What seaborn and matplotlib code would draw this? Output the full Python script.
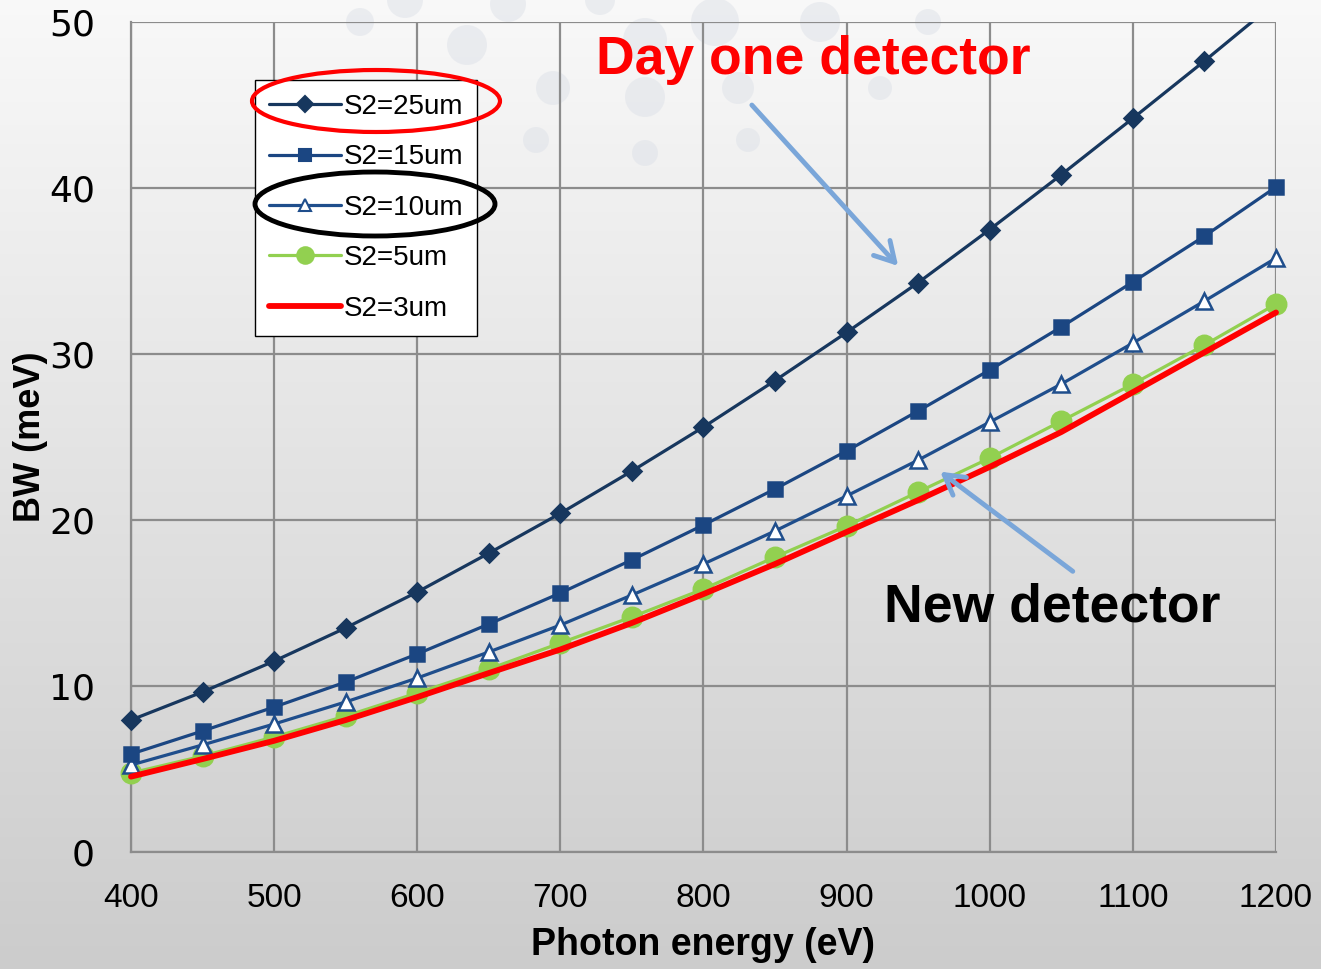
import numpy as np
import pandas as pd
import matplotlib
matplotlib.use("Agg")
import matplotlib.pyplot as plt
import seaborn as sns
from matplotlib.lines import Line2D
from matplotlib.patches import Ellipse, Circle, FancyArrowPatch, Rectangle
from matplotlib.ticker import MultipleLocator

energy = [400, 450, 500, 550, 600, 650, 700, 750, 800, 850, 900, 950, 1000, 1050, 1100, 1150, 1200]
s2_25 = [7.95, 9.64, 11.5, 13.5, 15.66, 18.0, 20.4, 22.95, 25.6, 28.4, 31.3, 34.3, 37.5, 40.8, 44.2, 47.65, 51.2]
s2_15 = [5.9, 7.29, 8.73, 10.24, 11.93, 13.73, 15.6, 17.6, 19.7, 21.87, 24.16, 26.57, 29.04, 31.63, 34.34, 37.1, 40.06]
s2_10 = [5.24, 6.45, 7.71, 9.04, 10.48, 12.05, 13.67, 15.48, 17.35, 19.34, 21.45, 23.61, 25.9, 28.19, 30.66, 33.19, 35.78]
s2_5 = [4.76, 5.78, 6.93, 8.19, 9.58, 11.02, 12.59, 14.16, 15.84, 17.77, 19.64, 21.69, 23.73, 25.96, 28.19, 30.54, 33.01]
s2_3 = [4.54, 5.6, 6.7, 7.95, 9.33, 10.78, 12.2, 13.8, 15.54, 17.35, 19.28, 21.2, 23.2, 25.3, 27.7, 30.1, 32.5]
labels = ["S2=25um", "S2=15um", "S2=10um", "S2=5um", "S2=3um"]
xticks = [400, 500, 600, 700, 800, 900, 1000, 1100, 1200]
yticks = [0, 10, 20, 30, 40, 50]

sns.set_theme(style="white")
plt.rcParams['font.family'] = ['Liberation Sans', 'DejaVu Sans']
plt.rcParams['text.color'] = 'black'
plt.rcParams['axes.labelcolor'] = 'black'
plt.rcParams['xtick.color'] = 'black'
plt.rcParams['ytick.color'] = 'black'

W, H = 1321, 969
fig = plt.figure(figsize=(W / 100, H / 100), dpi=100)

# background gradient
bg = fig.add_axes([0, 0, 1, 1], zorder=-10)
grad = np.linspace(0, 1, 256).reshape(-1, 1)
top = np.array([0.975, 0.975, 0.975])
bot = np.array([0.80, 0.80, 0.80])
img = top[None, None, :] * (1 - grad[:, :, None]) + bot[None, None, :] * grad[:, :, None]
bg.imshow(img, aspect='auto', extent=[0, W, H, 0])
bg.set_xlim(0, W)
bg.set_ylim(H, 0)
bg.axis('off')
circ = [(360, 22, 14), (405, 0, 18), (467, 45, 20), (508, 4, 18), (553, 88, 17), (600, 0, 15),
        (645, 40, 22), (645, 97, 20), (645, 153, 13), (715, 22, 24), (738, 88, 16), (748, 140, 12),
        (820, 22, 20), (536, 140, 13), (928, 22, 13), (880, 88, 12)]
for cx, cy, r in circ:
    bg.add_patch(Circle((cx, cy), r, facecolor='#dde1e8', edgecolor='none', alpha=0.5))

L, R, T, B = 131, 1276, 22, 852
ax = fig.add_axes([L / W, 1 - B / H, (R - L) / W, (B - T) / H])
ax.patch.set_alpha(0)

df = pd.DataFrame({"energy": energy * 5,
                   "bw": s2_25 + s2_15 + s2_10 + s2_5 + s2_3,
                   "series": sum([[l] * len(energy) for l in labels], [])})

styles = {
    "S2=25um": dict(color='#17375e', marker='D', markersize=9, lw=2.3, mfc='#17375e', mec='#17375e'),
    "S2=15um": dict(color='#1b4682', marker='s', markersize=10, lw=2.3, mfc='#1b4682', mec='#1b4682'),
    "S2=10um": dict(color='#1f4e8c', marker='^', markersize=11, lw=2.3, mfc='white', mec='#1f4e8c'),
    "S2=5um": dict(color='#92d050', marker='o', markersize=14, lw=2.3, mfc='#92d050', mec='#92d050'),
    "S2=3um": dict(color='#ff0000', marker=None, markersize=0, lw=4.2, mfc='none', mec='none'),
}
for i, lab in enumerate(labels):
    st = styles[lab]
    sub = df[df.series == lab]
    kw = dict(color=st['color'], lw=st['lw'], zorder=3 + (4 - i) * 0.1 if lab != "S2=3um" else 4)
    if st['marker']:
        kw.update(marker=st['marker'], markersize=st['markersize'], markerfacecolor=st['mfc'],
                  markeredgecolor=st['mec'], markeredgewidth=1.8)
    n_before = len(ax.lines)
    sns.lineplot(data=sub, x="energy", y="bw", ax=ax, legend=False, **kw)
    for ln in ax.lines[n_before:]:
        clip = Rectangle((-0.05, -0.05), 1.1, 1.05, transform=ax.transAxes)
        ln.set_clip_path(clip)

ax.set_xlim(400, 1200)
ax.set_ylim(0, 50)
ax.set_xticks(xticks)
ax.set_yticks(yticks)
ax.xaxis.set_minor_locator(MultipleLocator(20))
ax.yaxis.set_minor_locator(MultipleLocator(2))
ax.grid(True, which='major', color='#8c8c8c', lw=1.6, zorder=1)
ax.set_axisbelow(True)
for s in ['top', 'right']:
    ax.spines[s].set_visible(False)
for s in ['left', 'bottom']:
    ax.spines[s].set_color('#8c8c8c')
    ax.spines[s].set_linewidth(1.6)
ax.tick_params(axis='both', which='major', length=0)
ax.tick_params(axis='x', which='major', labelsize=24, pad=22, labelcolor='black')
ax.tick_params(axis='y', which='major', labelsize=26, pad=26, labelcolor='black')
for t in ax.get_yticklabels():
    t.set_fontfamily('DejaVu Sans')
ax.tick_params(axis='both', which='minor', direction='in', length=7, width=1.2, color='#8c8c8c')
ax.set_xlabel("Photon energy (eV)", fontsize=27, fontweight='bold', color='black')
ax.xaxis.set_label_coords(0.5, -(945 - B) / (B - T))
ax.xaxis.label.set_va('center')
ax.set_ylabel("BW (meV)", fontsize=26, fontweight='bold', color='black')
ax.yaxis.set_label_coords(-(L - 30) / (R - L), 0.5 - (437 - (T + B) / 2) / (B - T))
ax.yaxis.label.set_va('center')

# legend
handles = []
for lab in labels:
    st = styles[lab]
    if st['marker']:
        handles.append(Line2D([], [], color=st['color'], lw=st['lw'], marker=st['marker'],
                              markersize=st['markersize'] * 0.85, markerfacecolor=st['mfc'],
                              markeredgecolor=st['mec'], markeredgewidth=1.5))
    else:
        handles.append(Line2D([], [], color=st['color'], lw=st['lw']))
leg = fig.legend(handles, labels, loc='upper left', bbox_to_anchor=(255 / W, 1 - 80 / H),
                 frameon=True, fancybox=False, framealpha=1, edgecolor='black', fontsize=20,
                 handlelength=2.6, labelspacing=0.88, borderpad=0.5, handletextpad=0.1,
                 borderaxespad=0, borderpad_=None) if False else \
    fig.legend(handles, labels, loc='upper left', bbox_to_anchor=(255 / W, 1 - 80 / H),
               frameon=True, fancybox=False, framealpha=1, edgecolor='black', fontsize=20,
               handlelength=2.6, labelspacing=0.88, borderpad=0.5, handletextpad=0.1,
               borderaxespad=0)
leg.get_frame().set_linewidth(1.0)
for t in leg.get_texts():
    t.set_color('black')

# ellipses highlighting
ov = fig.add_axes([0, 0, 1, 1], zorder=20)
ov.set_xlim(0, W)
ov.set_ylim(H, 0)
ov.axis('off')
ov.patch.set_alpha(0)
ov.add_patch(Ellipse((376, 101), 248, 62, fill=False, edgecolor='#ff0000', lw=3))
ov.add_patch(Ellipse((375, 204), 240, 64, fill=False, edgecolor='black', lw=3.5))

# annotations
ov.text(813, 60, "Day one detector", color='#ff0000', fontsize=38.5, fontweight='bold',
        ha='center', va='center')
ov.text(1052, 607, "New detector", color='black', fontsize=38.5, fontweight='bold',
        ha='center', va='center')
ov.add_patch(FancyArrowPatch((750, 103), (900, 268), arrowstyle='->,head_length=14,head_width=8',
                             color='#7aa6d9', lw=3.5, mutation_scale=1))
ov.add_patch(FancyArrowPatch((1075, 573), (938, 470), arrowstyle='->,head_length=14,head_width=8',
                             color='#7aa6d9', lw=3.5, mutation_scale=1))

fig.savefig("out.png", dpi=100)
